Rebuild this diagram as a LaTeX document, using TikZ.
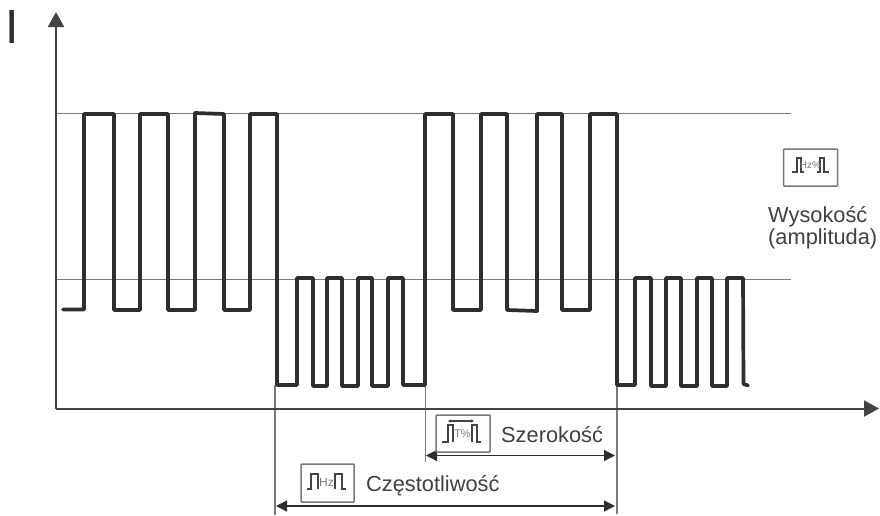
\documentclass[tikz,border=0pt]{standalone}
\usepackage{fontspec}
\setmainfont{Liberation Sans}
\usetikzlibrary{arrows.meta}
\definecolor{ink}{HTML}{2E2E2E}
\definecolor{guide}{HTML}{7A7A7A}
\definecolor{label}{HTML}{404040}
\tikzset{
  signal/.style={draw=ink,line width=3.7pt,line join=round,line cap=round},
  axis/.style={draw=ink!90!white,line width=2pt,-{Triangle[length=15pt,width=16pt]}},
  level/.style={draw=guide,line width=1pt},
  guideline/.style={draw=guide,line width=1.1pt},
  span/.style={draw=ink,line width=1.3pt,{Triangle[length=11pt,width=11pt]}-{Triangle[length=11pt,width=11pt]}},
  icon/.style={draw=guide,line width=1.5pt,minimum width=53pt,minimum height=38pt,inner sep=0pt,rounded corners=0.8pt},
  iconpulse/.style={draw=ink!90!white,line width=1.1pt},
  tiny/.style={font=\fontsize{10}{11}\selectfont,text=guide,inner sep=0pt},
  lbl/.style={font=\fontsize{21.8}{25}\selectfont,text=label,inner sep=0pt,anchor=base west}
}
\begin{document}
\begin{tikzpicture}[x=1pt,y=-1pt]
\useasboundingbox (0,0) rectangle (880,515);
% coordinates
\coordinate (o) at (56,408.5);
\coordinate (ytip) at (56,12);
\coordinate (xtip) at (879,408.5);
\coordinate (hiL) at (56,113);
\coordinate (hiR) at (791,113);
\coordinate (loL) at (56,279);
\coordinate (loR) at (791,279);
\coordinate (g1a) at (275,385);
\coordinate (g1b) at (275,515);
\coordinate (g2a) at (425.5,385);
\coordinate (g2b) at (425.5,462);
\coordinate (g3a) at (617,385);
\coordinate (g3b) at (617,514);
\coordinate (s1a) at (426,455.5);
\coordinate (s1b) at (615,455.5);
\coordinate (s2a) at (276,506);
\coordinate (s2b) at (615,506);
% levels
\draw[level] (hiL) -- (hiR);
\draw[level] (loL) -- (loR);
% guides
\draw[guideline] (g1a) -- (g1b);
\draw[guideline] (g2a) -- (g2b);
\draw[guideline] (g3a) -- (g3b);
% axes
\draw[axis] (o) -- (ytip);
\draw[axis] (o) -- (xtip);
% signal
\draw[signal] (63,309.5) -- (84,309.5) -- (84,114) -- (114,114) -- (114,310) -- (140,310) -- (140,114) -- (168,114) -- (168,310) -- (195,310) -- (195,113) -- (224,114) -- (224,310) -- (250,310) -- (250,114) -- (277,114)
 -- (277,385) -- (297,385) -- (297,278) -- (313,278) -- (313,386) -- (327,386) -- (327,278) -- (342,278) -- (342,386) -- (358,386) -- (358,278) -- (372,278) -- (372,386) -- (388,386) -- (388,278) -- (403,278) -- (403,385) -- (425,385)
 -- (425,114) -- (453,114) -- (453,310) -- (481,310) -- (481,114) -- (507,114) -- (507,310) -- (537,311) -- (537,114) -- (562,114) -- (562,310) -- (590,310) -- (590,114) -- (617,114)
 -- (617,385) -- (635,385) -- (635,278) -- (651,278) -- (651,386) -- (666,386) -- (666,278) -- (681,278) -- (681,386) -- (697,386) -- (697,278) -- (712,278) -- (712,386) -- (727,386) -- (727,278) -- (743,278) -- (743.5,384) -- (748,385.5);
% spans
\draw[span] (s1a) -- (s1b);
\draw[span] (s2a) -- (s2b);
% icons
\node[icon,minimum width=54pt,minimum height=37pt] (ia) at (810.5,167.5) {};
\node[icon,minimum width=54pt,minimum height=37pt] (ib) at (463,433.5) {};
\node[icon,minimum width=53pt,minimum height=38pt] (ic) at (327.5,483) {};
\draw[iconpulse] (792,172) -- (797,172) -- (797,158) -- (801,158) -- (801,172) -- (804,172) (817,172) -- (820,172) -- (820,158) -- (824,158) -- (824,172) -- (829,172);
\node[tiny] (ta) at (810.5,165) {Hz\%};
\draw[iconpulse] (442,442) -- (448,442) -- (448,425) -- (453,425) -- (453,442) (472,442) -- (472,425) -- (477,425) -- (477,442) -- (481,442);
\draw[iconpulse,{Stealth[length=3pt,width=3pt]}-{Stealth[length=3pt,width=3pt]}] (448,421) -- (474,421);
\node[tiny,font=\fontsize{11}{12}\selectfont] (tb) at (462.5,434) {T\%};
\draw[iconpulse] (307,489) -- (311,489) -- (311,474) -- (318,474) -- (318,489) (335,489) -- (335,474) -- (342,474) -- (342,489) -- (346,489);
\node[tiny,font=\fontsize{12}{13}\selectfont] (tc) at (326.5,482) {Hz};
% labels
\node[lbl] (wys) at (768,222.5) {Wysokość};
\node[lbl] (amp) at (768,244) {(amplituda)};
\node[lbl] (sze) at (501,442) {Szerokość};
\node[lbl] (cze) at (366,491) {Częstotliwość};
\node[inner sep=0pt,text=ink,font=\fontsize{48}{52}\selectfont] (ii) at (12.5,26.5) {I};
\end{tikzpicture}
\end{document}
